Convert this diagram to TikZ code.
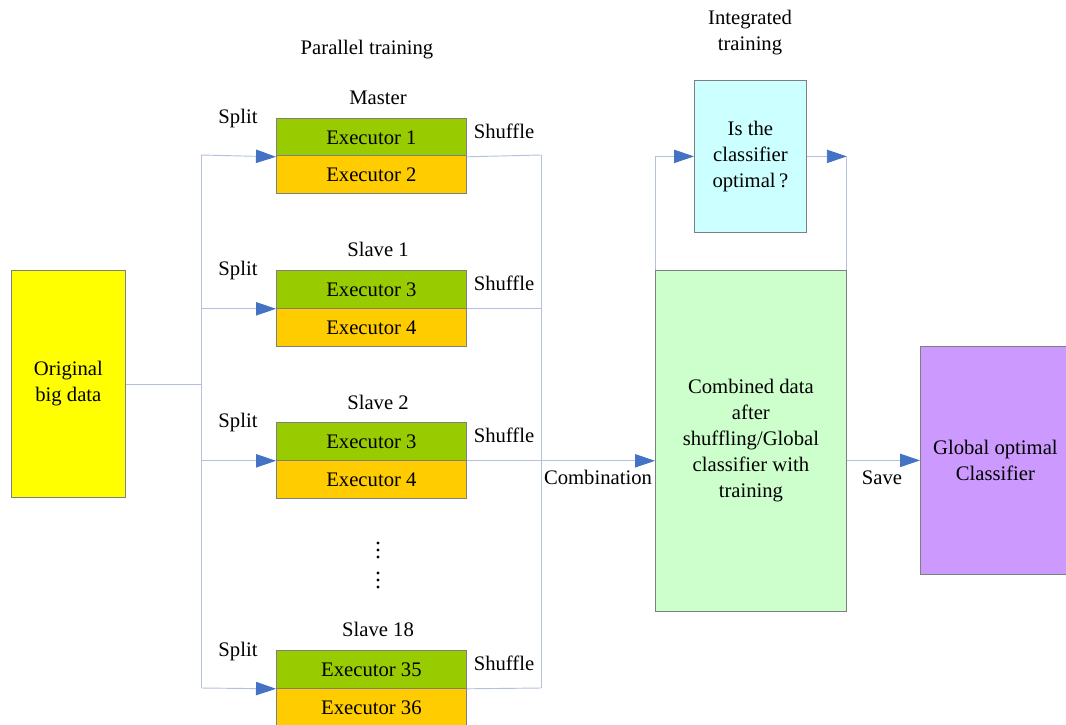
\documentclass[tikz,border=0pt]{standalone}
\usepackage{fontspec}
\setmainfont{Liberation Serif}
\usetikzlibrary{arrows.meta}

\definecolor{edgegray}{HTML}{7F7F7F}
\definecolor{linecol}{HTML}{B4C0DE}
\definecolor{tipblue}{HTML}{4472C4}
\definecolor{cyellow}{HTML}{FFFF00}
\definecolor{cgreen}{HTML}{99CC00}
\definecolor{corange}{HTML}{FFCC00}
\definecolor{ccyan}{HTML}{CCFFFF}
\definecolor{clgreen}{HTML}{CCFFCC}
\definecolor{cpurple}{HTML}{CC99FF}

\newcommand{\fs}{\rmfamily\fontsize{15.5pt}{19.5pt}\selectfont}

\tikzset{
  box/.style={draw=edgegray, line width=0.6pt, inner sep=0pt, align=center,
              anchor=north west, font=\fs},
  exec/.style={box, minimum width=190*0.75pt, minimum height=38*0.75pt},
  lbl/.style={font=\fs, inner sep=0pt, text height=1.6ex, text depth=0.4ex, align=center},
  conn/.style={draw=linecol, line width=0.7pt},
  arr/.style={conn, -{Triangle[length=15pt, width=10pt, color=tipblue]}}
}

\begin{document}
\begin{tikzpicture}[x=0.75pt, y=-0.75pt]
\useasboundingbox (0,0) rectangle (1066,724);

% source data
\node[box, fill=cyellow, minimum width=114*0.75pt, minimum height=227*0.75pt]
  (orig) at (11,270) {Original\\big data};

% worker groups: one green and one orange executor each
\node[exec, fill=cgreen]  (m1) at (276,118) {Executor 1};
\node[exec, fill=corange] (m2) at (276,155) {Executor 2};
\node[exec, fill=cgreen]  (a1) at (276,270) {Executor 3};
\node[exec, fill=corange] (a2) at (276,308) {Executor 4};
\node[exec, fill=cgreen]  (b1) at (276,422) {Executor 3};
\node[exec, fill=corange] (b2) at (276,460) {Executor 4};
\node[exec, fill=cgreen]  (c1) at (276,650) {Executor 35};
\node[exec, fill=corange] (c2) at (276,688) {Executor 36};

% integrated stage
\node[box, fill=ccyan, minimum width=112*0.75pt, minimum height=152*0.75pt]
  (opt) at (694,80) {Is the\\classifier\\optimal\,?};
\node[box, fill=clgreen, minimum width=191*0.75pt, minimum height=341*0.75pt]
  (comb) at (655,270) {Combined data\\after\\shuffling/Global\\classifier with\\training};
\node[box, fill=cpurple, minimum width=150*0.75pt, minimum height=228*0.75pt]
  (gopt) at (920,346) {Global optimal\\Classifier};

% split bus
\coordinate (bus) at (201,384);
\coordinate (bustop) at (201,155);
\coordinate (busbot) at (201,688);
\draw[conn] (orig.east |- bus) -- (bus);
\draw[conn] (bustop) -- (busbot);
\draw[arr] (bustop) -- (m1.south west);
\draw[arr] (a1.south west -| bustop) -- (a1.south west);
\draw[arr] (b1.south west -| bustop) -- (b1.south west);
\draw[arr] (busbot) -- (c1.south west);

% shuffle bus
\coordinate (shtop) at (541,155);
\coordinate (shbot) at (541,688);
\draw[conn] (m1.south east) -- (shtop);
\draw[conn] (a1.south east) -- (a1.south east -| shtop);
\draw[conn] (c1.south east) -- (shbot);
\draw[conn] (shtop) -- (shbot);
\draw[arr] (b1.south east) -- (b1.south east -| comb.west);

% optimisation loop and save
\draw[arr] (comb.north west) |- (opt.west);
\draw[arr] (opt.east) -- (opt.east -| comb.east);
\draw[conn] (opt.east -| comb.east) -- (comb.north east);
\draw[arr] (gopt.west -| comb.east) -- (gopt.west);

% labels
\node[lbl] (ptrain) at (367,51) {Parallel training};
\node[font=\fs, align=center, inner sep=0pt] (itrain) at (750,33) {Integrated\\training};
\node[lbl] (lm)  at (378,101) {Master};
\node[lbl] (l1)  at (378,253) {Slave 1};
\node[lbl] (l2)  at (378,406) {Slave 2};
\node[lbl] (l18) at (378,633) {Slave 18};
\foreach \y/\n in {120/sp0, 272/sp1, 424/sp2, 653/sp3}
  \node[lbl] (\n) at (238,\y) {Split};
\foreach \y/\n in {135/sh0, 287/sh1, 439/sh2, 667/sh3}
  \node[lbl] (\n) at (504,\y) {Shuffle};
\node[lbl] (lcomb) at (598,481) {Combination};
\node[lbl] (lsave) at (882,481) {Save};

% vertical ellipses between the groups
\foreach \yc in {550,580}
  \foreach \d in {-7,0,7}
    \fill (378,\yc+\d) circle[radius=1.2pt];
\end{tikzpicture}
\end{document}
